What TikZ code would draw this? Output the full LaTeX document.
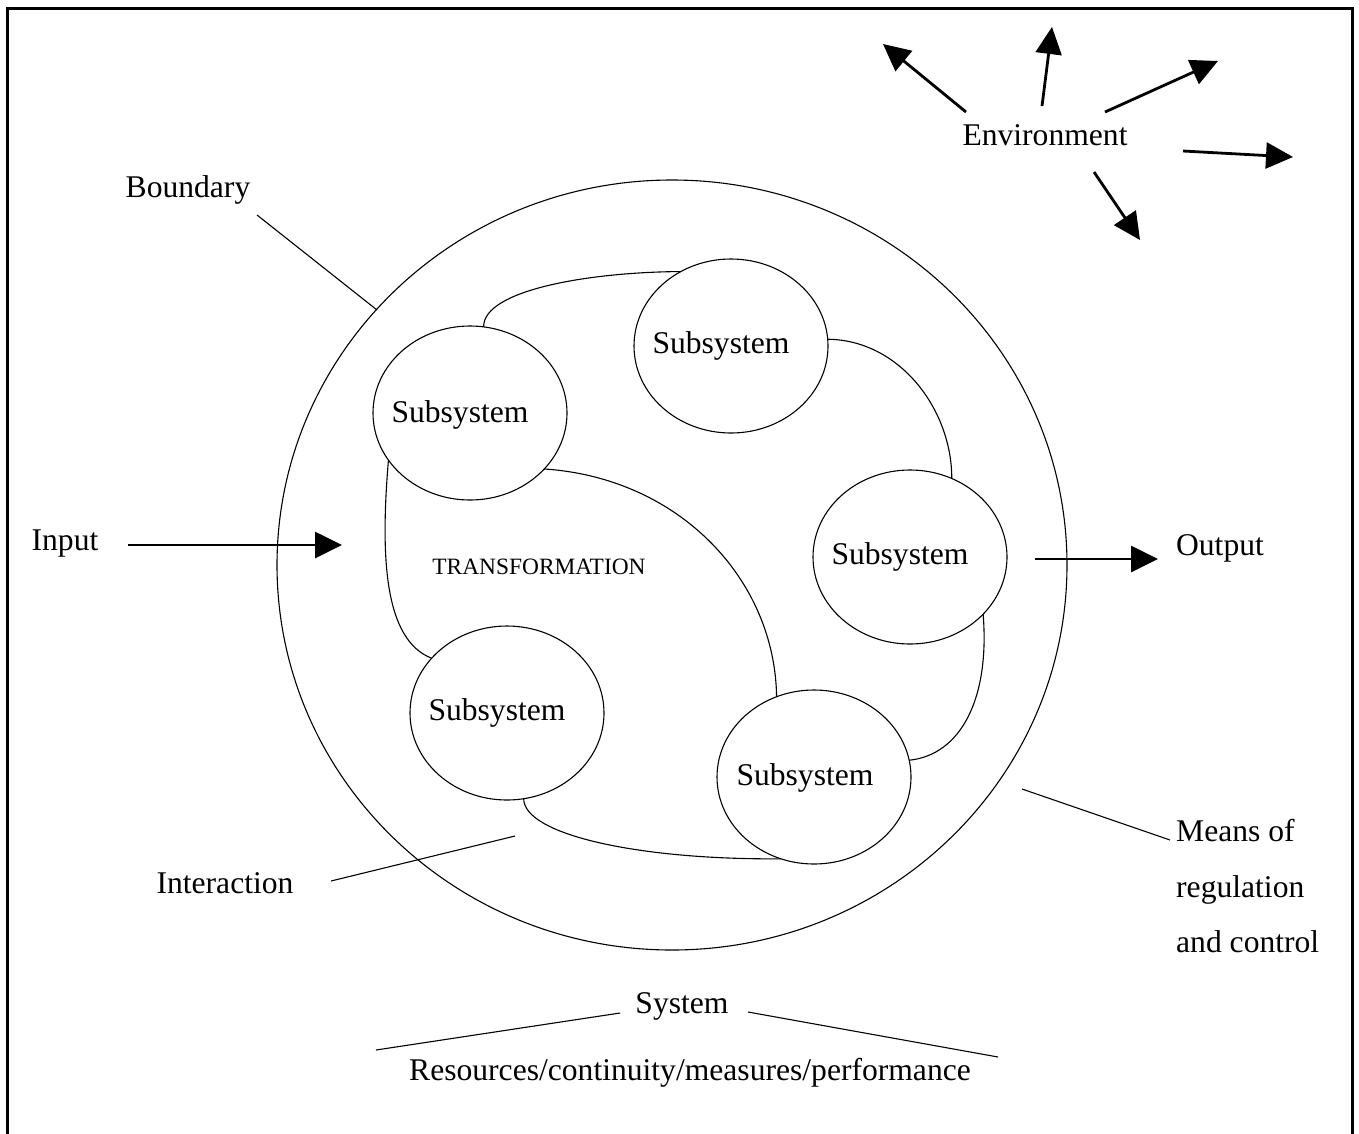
\documentclass[tikz,border=0pt]{standalone}
\usepackage{fontspec}
\setmainfont{Liberation Serif}
\usetikzlibrary{shapes.geometric,arrows.meta}
\begin{document}
\begin{tikzpicture}[x=1pt,y=-1pt,
  thinline/.style={line width=1.1pt},
  boldarrow/.style={line width=2.8pt,-{Triangle[length=27pt,width=26pt]}},
  sub/.style={draw,ellipse,line width=1.1pt,minimum width=194pt,minimum height=174pt,inner sep=0pt,outer sep=0pt},
  lbl/.style={font=\fontsize{31.6}{38}\selectfont,inner sep=0pt,anchor=base},
  small/.style={font=\fontsize{23.4}{28}\selectfont,inner sep=0pt,anchor=base},
]
\useasboundingbox (0,0) rectangle (1359,1133);
\clip (0,0) rectangle (1359,1133);

% frame
\draw[line width=3pt] (7,1160) -- (7,8) -- (1352,8) -- (1352,1160);

% the system boundary
\node[draw,ellipse,line width=1.1pt,minimum width=790pt,minimum height=770pt,inner sep=0pt,outer sep=0pt] (sys) at (672,565) {};

% subsystems
\node[sub] (s1) at (470,413) {};
\node[sub] (s2) at (731,346) {};
\node[sub] (s3) at (910,557) {};
\node[sub] (s4) at (507,713) {};
\node[sub] (s5) at (814,777) {};

\node[lbl] (t1) at (460,422) {Subsystem};
\node[lbl] (t2) at (721,353) {Subsystem};
\node[lbl] (t3) at (900,564) {Subsystem};
\node[lbl] (t4) at (497,720) {Subsystem};
\node[lbl] (t5) at (805,785) {Subsystem};

\node[small] (trans) at (539,574) {TRANSFORMATION};

% interactions between subsystems
\draw[thinline] (s1.81.4) .. controls (483,290) and (590,272) .. (s2.124.6);
\draw[thinline] (s2.4.9) .. controls (900,340) and (952,410) .. (s3.62);
\draw[thinline] (s3.-38.4) .. controls (990,700) and (960,755) .. (s5.10.3);
\draw[thinline] (s1.-37.8) .. controls (680,478) and (775,580) .. (s5.115.2);
\draw[thinline] (s1.210) .. controls (380,560) and (385,640) .. (s4.144.2);
\draw[thinline] (s4.-79.5) .. controls (524,835) and (640,860) .. (s5.248);

% labels around the system
\node[lbl] (boundary) at (188,197) {Boundary};
\coordinate (bA) at (257,215);
\coordinate (bB) at (377,310);
\draw[thinline] (bA) -- (bB);

\node[lbl] (interaction) at (225,893) {Interaction};
\coordinate (iA) at (331,881);
\coordinate (iB) at (515,836);
\draw[thinline] (iA) -- (iB);

\node[lbl,anchor=base west] (mean1) at (1176,841) {Means of};
\node[lbl,anchor=base west] (mean2) at (1176,897) {regulation};
\node[lbl,anchor=base west] (mean3) at (1176,952) {and control};
\coordinate (mA) at (1022,789);
\coordinate (mB) at (1170,840);
\draw[thinline] (mA) -- (mB);

\node[lbl] (system) at (682,1013) {System};
\coordinate (yL1) at (376,1050);
\coordinate (yL2) at (620,1013);
\coordinate (yR1) at (748,1012);
\coordinate (yR2) at (998,1057);
\draw[thinline] (yL1) -- (yL2);
\draw[thinline] (yR1) -- (yR2);
\node[lbl] (resources) at (690,1080) {Resources/continuity/measures/performance};

% input and output
\node[lbl] (input) at (65,550) {Input};
\coordinate (inA) at (128,545);
\coordinate (inB) at (342,545);
\draw[boldarrow] (inA) -- (inB);

\node[lbl] (output) at (1220,555) {Output};
\coordinate (outA) at (1035,559);
\coordinate (outB) at (1158,559);
\draw[boldarrow] (outA) -- (outB);

% environment
\node[lbl] (env) at (1045,145) {Environment};
\coordinate (e1a) at (966,112);  \coordinate (e1b) at (883,44);
\coordinate (e2a) at (1042,106); \coordinate (e2b) at (1052,27);
\coordinate (e3a) at (1105,112); \coordinate (e3b) at (1218,61);
\coordinate (e4a) at (1183,151); \coordinate (e4b) at (1293,157);
\coordinate (e5a) at (1094,172); \coordinate (e5b) at (1140,240);
\draw[boldarrow] (e1a) -- (e1b);
\draw[boldarrow] (e2a) -- (e2b);
\draw[boldarrow] (e3a) -- (e3b);
\draw[boldarrow] (e4a) -- (e4b);
\draw[boldarrow] (e5a) -- (e5b);
\end{tikzpicture}
\end{document}
